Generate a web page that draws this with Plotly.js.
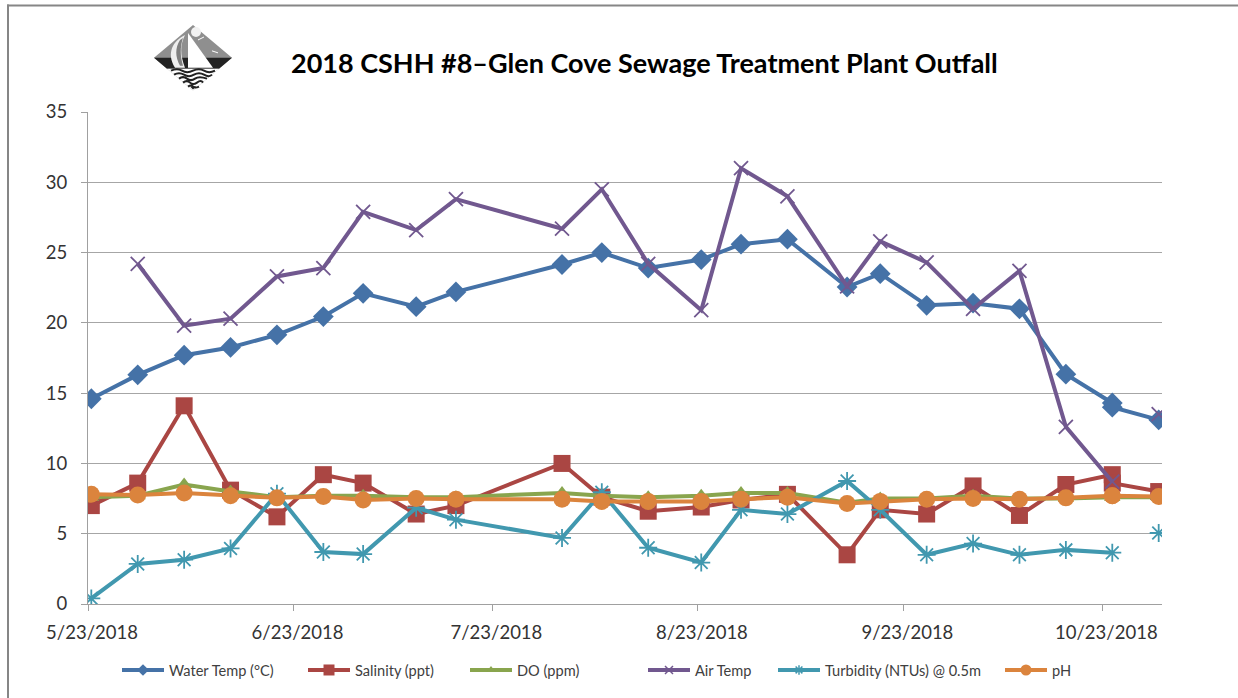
<!DOCTYPE html>
<html>
<head>
<meta charset="utf-8">
<script src="https://cdn.plot.ly/plotly-3.0.1.min.js"></script>
<style>html,body{margin:0;padding:0;background:#fff;overflow:hidden}</style>
</head>
<body>
<div id="chart" style="width:1238px;height:698px"></div>
<script>
var dates = ['2018-05-23','2018-05-30','2018-06-06','2018-06-13','2018-06-20','2018-06-27','2018-07-03','2018-07-11','2018-07-17','2018-08-02','2018-08-08','2018-08-15','2018-08-23','2018-08-29','2018-09-05','2018-09-14','2018-09-19','2018-09-26','2018-10-03','2018-10-10','2018-10-17','2018-10-24','2018-10-24','2018-10-31'];
var waterTemp = [14.6,16.3,17.7,18.25,19.15,20.45,22.1,21.15,22.2,24.15,25.0,23.9,24.5,25.6,25.95,22.55,23.5,21.25,21.4,21.0,16.35,14.3,14.0,13.1];
var salinity = [7.0,8.6,14.1,8.1,6.2,9.2,8.6,6.4,7.0,10.0,7.6,6.6,6.9,7.4,7.8,3.5,6.7,6.4,8.4,6.3,8.5,9.2,8.6,8.0];
var dissolvedO2 = [7.6,7.7,8.5,8.0,7.6,7.7,7.7,7.6,7.6,7.9,7.7,7.6,7.7,7.9,7.9,7.2,7.5,7.5,7.7,7.5,7.5,7.6,7.6,7.6];
var airTemp = [null,24.2,19.8,20.3,23.3,23.9,27.9,26.6,28.8,26.7,29.5,24.2,20.9,31.0,29.0,22.6,25.8,24.3,21.0,23.7,12.6,8.7,null,13.5];
var turbidity = [0.4,2.85,3.15,3.95,7.85,3.7,3.55,6.85,6.0,4.7,7.95,4.0,2.95,6.7,6.4,8.75,6.7,3.5,4.3,3.5,3.85,3.65,null,5.05];
var pH = [7.8,7.75,7.9,7.7,7.55,7.65,7.4,7.5,7.45,7.45,7.3,7.3,7.3,7.45,7.6,7.15,7.3,7.45,7.5,7.45,7.55,7.7,7.7,7.65];

var seriesNames = ['Water Temp (°C)','Salinity (ppt)','DO (ppm)','Air Temp','Turbidity (NTUs) @ 0.5m','pH'];
var seriesValues = [waterTemp,salinity,dissolvedO2,airTemp,turbidity,pH];
var seriesColors = ['#4572A7','#AA4643','#89A54E','#71588F','#4198AF','#DB843D'];
var markerSymbols = ['diamond','square','triangle-up','x-thin-open','asterisk-open','circle'];
var markerSizes = [16,17,14,14,15,17];
var legendSizes = [9,11,8,8,8,11];
var legendLeft = [122,308,470,648,778,1005];

var tickDates = ['2018-05-22 12:00','2018-06-22 12:00','2018-07-22 12:00','2018-08-22 12:00','2018-09-22 12:00','2018-10-22 12:00'];
var tickLabels = ['5/23/2018','6/23/2018','7/23/2018','8/23/2018','9/23/2018','10/23/2018'];
var yTicks = [0,5,10,15,20,25,30,35];

var W = 1238, H = 698, L = 88, R = 1162, T = 111.5, B = 604;
function px(x){ return (x - L) / (R - L); }
function py(y){ return (B - y) / (B - T); }

var FONT = 'Lato, "Open Sans", sans-serif';
var traces = [];
seriesNames.forEach(function(name,i){
  traces.push({
    type:'scatter', mode:'lines+markers', name:name, x:dates, y:seriesValues[i],
    showlegend:false, connectgaps:false, hoverinfo:'x+y',
    line:{color:seriesColors[i],width:4},
    marker:{symbol:markerSymbols[i],size:markerSizes[i],color:seriesColors[i],
      line:{color:seriesColors[i],width:(i===3||i===4)?1.8:0}}
  });
});
var legends = {};
seriesNames.forEach(function(name,i){
  var key = i===0 ? 'legend' : 'legend'+(i+1);
  traces.push({
    type:'scatter', mode:'lines+markers', name:name, x:[dates[0]], y:[null],
    showlegend:true, legend:key, hoverinfo:'skip',
    line:{color:seriesColors[i],width:4},
    marker:{symbol:markerSymbols[i],size:legendSizes[i],color:seriesColors[i],
      line:{color:seriesColors[i],width:(i===3||i===4)?1.5:0}}
  });
  legends[key] = {xref:'container', yref:'container', x:(legendLeft[i]-5)/W, y:1-670/H, xanchor:'left', yanchor:'middle',
    orientation:'h', itemwidth:42, bgcolor:'rgba(0,0,0,0)', borderwidth:0,
    font:{family:FONT,size:14.6,color:'#404040'}, tracegroupgap:0, itemclick:false, itemdoubleclick:false};
});

var logo = '<svg xmlns="http://www.w3.org/2000/svg" viewBox="0 0 78 66">'
 + '<polygon points="39,0 78,33 39,66 0,33" fill="#8f8f8f"/>'
 + '<polygon points="0,33 78,33 65,44 13,44" fill="#222"/>'
 + '<polygon points="13,44 65,44 39,66" fill="#fff"/>'
 + '<path d="M17,46 Q23,43 28,46 T39,46 T50,46 T61,46 M20,50 Q25,47 30,50 T40,50 T50,50 T58,50 M25,54 Q29,51 33,54 T41,54 T53,54 M29,58 Q33,55 36,58 T43,58 T49,58 M34,62 Q37,60 39,62 T45,62" stroke="#222" stroke-width="2" fill="none"/>'
 + '<polygon points="39,65 36,62 42,62" fill="#222"/>'
 + '<path d="M31,10 C19,16 12,28 21,43 L31,43 C26,30 26,20 31,10 Z" fill="#eeeeee"/>'
 + '<path d="M26,15 C21,23 21,32 26,41 L29,41 C26,31 26,22 29,13 Z" fill="#808080"/>'
 + '<polygon points="34,8 59,43 34,43" fill="#fff"/>'
 + '<circle cx="42" cy="7" r="5" fill="#f2f2f2"/>'
 + '<path d="M44,15 L50,12 M58,26 L64,28" stroke="#fff" stroke-width="1" fill="none"/>'
 + '</svg>';

var layout = {
  width:W, height:H, autosize:false,
  margin:{l:L,r:W-R,t:T,b:H-B,pad:0},
  paper_bgcolor:'#fff', plot_bgcolor:'#fff',
  font:{family:FONT,color:'#404040'},
  hovermode:'closest',
  annotations:[{
    text:'<b>2018 CSHH #8–Glen Cove Sewage Treatment Plant Outfall</b>',
    xref:'paper', yref:'paper', x:px(644.5), y:py(62), xanchor:'center', yanchor:'middle',
    showarrow:false, font:{family:FONT,size:27,color:'#000'}
  }],
  images:[{
    source:'data:image/svg+xml;utf8,'+encodeURIComponent(logo),
    xref:'paper', yref:'paper', x:px(154), y:py(24.5), sizex:px(232)-px(154), sizey:py(24.5)-py(90),
    xanchor:'left', yanchor:'top', sizing:'stretch', layer:'above'
  }],
  shapes:[
    {type:'line', xref:'paper', yref:'paper', x0:px(7), x1:px(1238), y0:py(5), y1:py(5), line:{color:'#868686',width:2}, layer:'below'},
    {type:'line', xref:'paper', yref:'paper', x0:px(8), x1:px(8), y0:py(4), y1:py(698), line:{color:'#868686',width:2}, layer:'below'}
  ],
  xaxis:{
    type:'date', range:['2018-05-22 12:00','2018-10-31 12:00'], tickmode:'array',
    tickvals:tickDates, ticktext:tickLabels, ticks:'outside', ticklen:6, tickwidth:1.3, tickcolor:'#a0a0a0',
    ticklabelshift:4, ticklabelstandoff:6,
    showgrid:false, zeroline:false, showline:true, linecolor:'#a0a0a0', linewidth:1.3,
    tickfont:{family:FONT,size:18.5,color:'#333'}
  },
  yaxis:{
    range:[0,35], tickmode:'array', tickvals:yTicks, ticktext:yTicks.map(String),
    ticks:'outside', ticklen:6, tickwidth:1.3, tickcolor:'#a0a0a0', ticklabelstandoff:10,
    showgrid:true, gridcolor:'#a6a6a6', gridwidth:1.3, zeroline:false,
    showline:true, linecolor:'#a0a0a0', linewidth:1.3,
    tickfont:{family:FONT,size:18.5,color:'#333'}
  }
};
Object.keys(legends).forEach(function(k){ layout[k]=legends[k]; });
Plotly.newPlot('chart', traces, layout, {displayModeBar:false, responsive:false});
</script>
</body>
</html>
